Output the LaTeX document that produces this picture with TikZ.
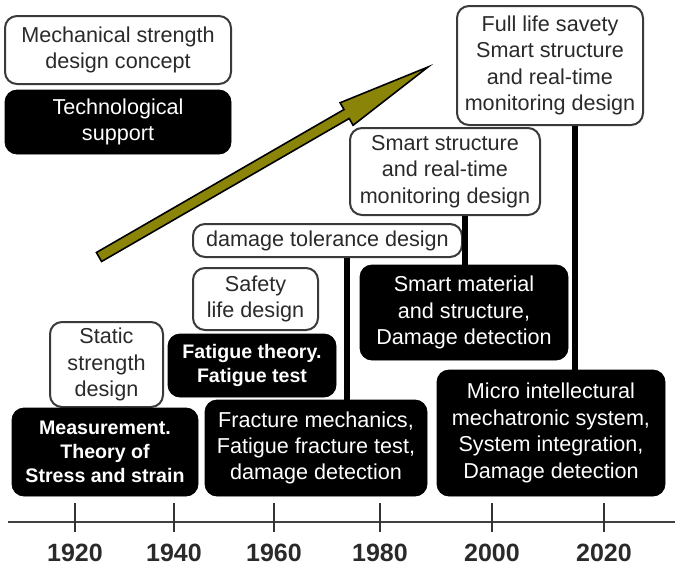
\documentclass[tikz,border=0pt]{standalone}
\usepackage{fontspec}
\setmainfont{Liberation Sans}
\usepackage{tikz}
\usetikzlibrary{calc}
\definecolor{olivearrow}{HTML}{8A8508}
\definecolor{edgegray}{HTML}{3A3A3A}
\definecolor{ink}{HTML}{2A2A2A}
\tikzset{
  ideabox/.style={
    rectangle, rounded corners=6pt, draw=edgegray, line width=1pt, fill=white,
    text=ink, align=center, inner sep=1pt,
    font=\fontsize{10.8}{13.2}\selectfont
  },
  techbox/.style={
    rectangle, rounded corners=6pt, draw=black, fill=black, text=white,
    align=center, inner sep=1pt,
    font=\fontsize{10.8}{13.2}\selectfont
  },
  boldtech/.style={techbox, font=\bfseries\fontsize{9.8}{12}\selectfont},
  stem/.style={line width=2.6pt, black},
  yeartick/.style={line width=1pt, black!80},
  yearlabel/.style={font=\bfseries\fontsize{12.5}{14}\selectfont, text=ink},
}

\begin{document}
\begin{tikzpicture}[x=0.5pt, y=-0.5pt]
  \useasboundingbox (0,0) rectangle (675,568);
  % legend
  \node[ideabox, minimum width=113pt, minimum height=34pt] (concept) at (118,50) {Mechanical strength\\design concept};
  \node[techbox, minimum width=113pt, minimum height=32pt] (support) at (118,122) {Technological\\support};
  % trend arrow
  \coordinate (arrtail) at (99,257);
  \coordinate (arrtip) at (428,67);
  \coordinate (arrbase) at ($(arrtip)!47pt!(arrtail)$);
  \filldraw[fill=olivearrow, draw=black, line width=0.8pt, line join=miter]
    ($(arrtail)!2.6pt!90:(arrtip)$) -- ($(arrbase)!2.6pt!90:(arrtip)$)
    -- ($(arrbase)!6.5pt!90:(arrtip)$) -- (arrtip)
    -- ($(arrbase)!6.5pt!-90:(arrtip)$) -- ($(arrbase)!2.6pt!-90:(arrtip)$)
    -- ($(arrtail)!2.6pt!-90:(arrtip)$) -- cycle;
  % design concepts
  \node[ideabox, minimum width=56.5pt, minimum height=42.5pt] (static) at (106.5,364.5) {Static\\strength\\design};
  \node[ideabox, minimum width=62.5pt, minimum height=31pt] (safety) at (255.5,299) {Safety\\life design};
  \node[ideabox, minimum width=134.5pt, minimum height=16.5pt] (tol) at (327.5,240.5) {damage tolerance design};
  \node[ideabox, minimum width=95pt, minimum height=43.5pt] (smartmid) at (445,171.5) {Smart structure\\and real-time\\monitoring design};
  \node[ideabox, minimum width=93pt, minimum height=59.5pt] (fulllife) at (550,65.5) {Full life savety\\Smart structure\\and real-time\\monitoring design};
  % technological support
  \node[boldtech, minimum width=93pt, minimum height=44pt] (measure) at (105,452) {Measurement.\\Theory of\\Stress and strain};
  \node[boldtech, minimum width=84pt, minimum height=31.5pt] (fatigue) at (252,365.5) {Fatigue theory.\\Fatigue test};
  \node[techbox, minimum width=111pt, minimum height=48pt] (frac) at (316,448) {Fracture mechanics,\\Fatigue fracture test,\\damage detection};
  \node[techbox, minimum width=104pt, minimum height=47.5pt] (smartmat) at (464,312.5) {Smart material\\and structure,\\Damage detection};
  \node[techbox, minimum width=114pt, minimum height=63pt] (micro) at (551,433) {Micro intellectural\\mechatronic system,\\System integration,\\Damage detection};
  \draw[stem] ([xshift=9.75pt]tol.south) -- ([xshift=9.75pt]tol.south |- frac.north);
  \draw[stem] ([xshift=10pt]smartmid.south) -- ([xshift=10pt]smartmid.south |- smartmat.north);
  \draw[stem] ([xshift=12.5pt]fulllife.south) -- ([xshift=12.5pt]fulllife.south |- micro.north);
  % time axis
  \coordinate (axleft) at (8,522);
  \coordinate (axright) at (675,522);
  \draw[line width=0.9pt, black!75] (axleft) -- (axright);
  \foreach \yr/\xx in {1920/75, 1940/174, 1960/274, 1980/380, 2000/492, 2020/604} {
    \draw[yeartick] (\xx,503) -- (\xx,532);
    \node[yearlabel] (y\yr) at (\xx,553) {\yr};
  }
\end{tikzpicture}
\end{document}
